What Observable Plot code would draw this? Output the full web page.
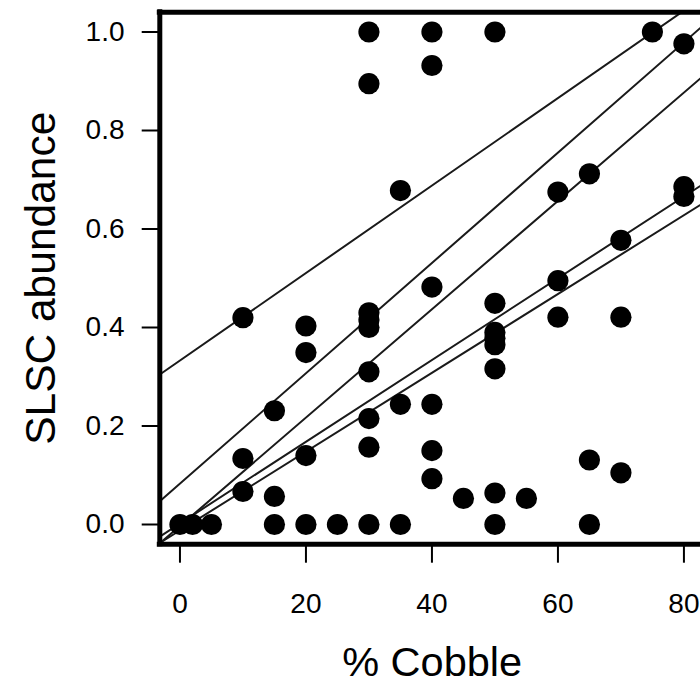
<!DOCTYPE html>
<html>
<head>
<meta charset="utf-8">
<script src="https://cdn.jsdelivr.net/npm/d3@7"></script>
<script src="https://cdn.jsdelivr.net/npm/@observablehq/plot@0.6"></script>
<style>
  html, body { margin: 0; padding: 0; background: #fff; overflow: hidden; }
  #chart svg { display: block; }
</style>
</head>
<body>
<div id="chart"></div>
<script>
// % Cobble (x) and SLSC abundance (y) for each observation
const cobble = [
  0, 2, 5,
  10, 10, 10,
  15, 15, 15,
  20, 20, 20, 20,
  25,
  30, 30, 30, 30, 30, 30, 30, 30, 30,
  35, 35, 35,
  40, 40, 40, 40, 40, 40,
  45,
  50, 50, 50, 50, 50, 50, 50, 50,
  55,
  60, 60, 60,
  65, 65, 65,
  70, 70, 70,
  75,
  80, 80, 80
];
const abundance = [
  0, 0, 0,
  0.42, 0.134, 0.067,
  0.231, 0.057, 0,
  0.403, 0.349, 0.140, 0,
  0,
  1.0, 0.895, 0.43, 0.415, 0.40, 0.31, 0.215, 0.157, 0,
  0.678, 0.244, 0,
  1.0, 0.932, 0.482, 0.244, 0.150, 0.093,
  0.053,
  1.0, 0.449, 0.39, 0.378, 0.365, 0.316, 0.064, 0,
  0.053,
  0.675, 0.495, 0.421,
  0.712, 0.131, 0,
  0.577, 0.421, 0.105,
  1.0,
  0.976, 0.686, 0.666
];

// fitted regression lines (intercept, slope)
const lineIntercepts = [0.333, 0.083, -0.003, 0.002, -0.012];
const lineSlopes = [0.00888, 0.0112, 0.0110, 0.0083, 0.0080];

const xTicks = [0, 20, 40, 60, 80];
const yTicks = [0, 0.2, 0.4, 0.6, 0.8, 1.0];
const xLabel = "% Cobble";
const yLabel = "SLSC abundance";

const xDomain = [-3.2, 82.63];
const yDomain = [-0.04, 1.04];

const points = cobble.map((x, i) => ({x, y: abundance[i]}));
const lines = lineIntercepts.flatMap((a, k) =>
  [-3.2, 83.2].map(x => ({k, x, y: a + lineSlopes[k] * x}))
);

const font = "'Liberation Sans', Arial, Helvetica, sans-serif";

const chart = Plot.plot({
  width: 700,
  height: 684,
  marginLeft: 159.3,
  marginRight: 0,
  marginTop: 11.8,
  marginBottom: 140.3,
  style: {fontFamily: font, color: "#000", background: "#fff"},
  x: {domain: xDomain},
  y: {domain: yDomain},
  marks: [
    Plot.line(lines, {x: "x", y: "y", z: "k", stroke: "#1a1a1a", strokeWidth: 2, clip: true}),
    Plot.dot(points, {x: "x", y: "y", r: 10.6, fill: "#000", stroke: "none"}),
    Plot.ruleX([xDomain[0]], {stroke: "#000", strokeWidth: 5, strokeLinecap: "square"}),
    Plot.ruleY([yDomain[0], yDomain[1]], {stroke: "#000", strokeWidth: 5, strokeLinecap: "square"}),
    Plot.axisX({
      ticks: xTicks, tickFormat: d3.format("d"),
      tickSize: 19, tickPadding: 29.5, strokeWidth: 2,
      fontSize: 28, label: null
    }),
    Plot.axisY({
      ticks: yTicks, tickFormat: d3.format(".1f"),
      tickSize: 17.6, tickPadding: 17.7, strokeWidth: 2,
      fontSize: 28, label: null
    }),
    Plot.text([xLabel], {
      frameAnchor: "bottom", lineAnchor: "bottom", textAnchor: "middle", dy: 131.5, dx: 2,
      fontSize: 41.5, fill: "#000"
    }),
    Plot.text([yLabel], {
      frameAnchor: "left", lineAnchor: "middle", textAnchor: "middle", rotate: -90, dx: -118,
      fontSize: 42.5, fill: "#000"
    })
  ]
});
document.getElementById("chart").appendChild(chart);
</script>
</body>
</html>
